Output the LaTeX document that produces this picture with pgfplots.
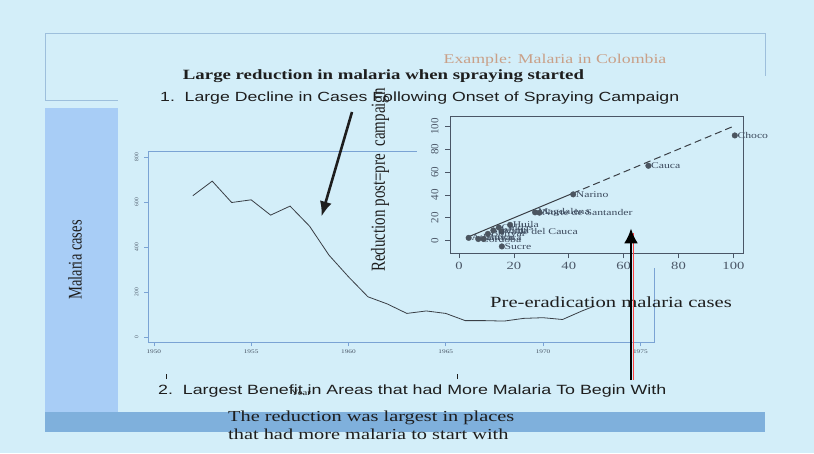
\documentclass[border=0pt]{standalone}
\usepackage{pgfplots}
\pgfplotsset{compat=1.18}
\usepackage{fontspec}
\setmainfont{Liberation Serif}
\newfontfamily\arial{Liberation Sans}
\usepackage{graphicx}
\usetikzlibrary{arrows.meta}
\definecolor{bg}{HTML}{D3EEF9}
\definecolor{framec}{HTML}{9DBFDC}
\definecolor{panel}{HTML}{A8CDF6}
\definecolor{band}{HTML}{7FB0DC}
\definecolor{exc}{HTML}{C9A088}
\definecolor{maincol}{HTML}{7AA3D4}
\definecolor{linec}{HTML}{3A3F46}
\definecolor{insetc}{HTML}{4A5666}
\definecolor{ptc}{HTML}{4B5560}
\definecolor{labc}{HTML}{3D4B5E}
\definecolor{txt}{HTML}{1E1E1E}
\newcommand{\hs}[1]{\scalebox{1.33}[1]{#1}}
\newcommand{\vs}[1]{\scalebox{1}[1.33]{#1}}
\begin{document}
\begin{tikzpicture}[x=1pt,y=1pt]
\path[use as bounding box, fill=bg] (0,0) rectangle (814,453);
% slide decorations
\draw[framec, line width=0.8pt] (45,353) -- (45,420) -- (765,420) -- (765,377);
\draw[framec, line width=0.8pt] (45,353) -- (118,353);
\fill[panel] (45,41) rectangle (118,345);
\fill[band] (45,21) rectangle (765,41);

% main chart
\begin{axis}[at={(148pt,111pt)}, anchor=south west, scale only axis,
  width=506pt, height=191pt,
  xmin=1949.7, xmax=1975.7, ymin=-22, ymax=827,
  xtick={1950,1955,...,1975}, ytick={0,200,...,800},
  axis line style={maincol, line width=0.7pt},
  tick style={maincol, line width=0.6pt},
  tick align=outside, tick pos=left, major tick length=4pt,
  xticklabel={\hs{\pgfmathprintnumber[assume math mode=true,1000 sep={}]{\tick}}},
  yticklabel={\pgfmathprintnumber[assume math mode=true,1000 sep={}]{\tick}},
  x tick label style={font=\fontsize{5.5}{6}\selectfont, text=insetc},
  y tick label style={font=\fontsize{5.5}{6}\selectfont, text=insetc, rotate=90, anchor=south},
  yticklabel shift=2pt,
  clip=false]
\addplot[color=linec, line width=0.8pt] coordinates {
(1952,628) (1953,693) (1954,598) (1955,610) (1956,542) (1957,582)
(1958,493) (1959,364) (1960,268) (1961,179) (1962,147) (1963,105)
(1964,116) (1965,105) (1966,73) (1967,73) (1968,71) (1969,83)
(1970,86) (1971,78) (1972,116) (1973,150)};
\end{axis}

% cover of inset image
\fill[bg] (417,185) rectangle (800,345);
\fill[bg] (594,142) rectangle (616,158);

% texts
\node[inner sep=0] at (555,393) {\hs{\fontsize{13.4}{16}\selectfont\color{exc}Example: Malaria in Colombia}};
\node[inner sep=0] at (383.5,377) {\hs{\fontsize{14.15}{16}\selectfont\bfseries\color{txt}Large reduction in malaria when spraying started}};
\node[inner sep=0, anchor=west] at (160,355) {\hs{\arial\fontsize{13.3}{15}\selectfont\color{txt}1.\hspace{0.55em}Large Decline in Cases Following Onset of Spraying Campaign}};
\node[inner sep=0, anchor=west] at (158,62) {\hs{\arial\fontsize{13.4}{15}\selectfont\color{txt}2.\hspace{0.55em}Largest Benefit in Areas that had More Malaria To Begin With}};
\node[inner sep=0] at (301,60) {\hs{\fontsize{8}{9}\selectfont\color{txt}Year}};
\draw[txt, line width=0.6pt] (166,74) -- (166,79);
\draw[txt, line width=0.6pt] (457,74) -- (457,79);
\node[inner sep=0, anchor=west] at (228,35) {\hs{\fontsize{15.3}{16}\selectfont\color{txt}The reduction was largest in places}};
\node[inner sep=0, anchor=west] at (228,19) {\hs{\fontsize{15.3}{16}\selectfont\color{txt}that had more malaria to start with}};
\node[inner sep=0, rotate=90] at (75,193) {\vs{\fontsize{14.5}{16}\selectfont\color{txt}Malaria cases}};
\node[inner sep=0, anchor=west] at (490,151) {\hs{\fontsize{15.5}{17}\selectfont\color{txt}Pre-eradication malaria cases}};
\node[inner sep=0, rotate=90] at (380,273) {\vs{\fontsize{15}{17}\selectfont\color{txt}Reduction post=pre\ \ campaign}};

% inset scatter
\begin{axis}[at={(450pt,199.7pt)}, anchor=south west, scale only axis,
  width=293.3pt, height=137.3pt,
  xmin=-3.3, xmax=103.6, ymin=-11, ymax=109,
  xtick={0,20,...,100}, ytick={0,20,...,100},
  axis line style={insetc, line width=0.8pt},
  tick style={insetc, line width=0.7pt},
  tick align=outside, tick pos=left, major tick length=5pt,
  xticklabel={\hs{\pgfmathprintnumber[assume math mode=true]{\tick}}},
  yticklabel={\pgfmathprintnumber[assume math mode=true]{\tick}},
  x tick label style={font=\fontsize{11}{12}\selectfont, text=insetc},
  y tick label style={font=\fontsize{11}{12}\selectfont, text=insetc, rotate=90, anchor=south},
  yticklabel shift=3pt,
  clip=false]
\addplot[color=linec, line width=1pt] coordinates {(3,3) (41.5,41.5)};
\addplot[color=linec, line width=1pt, dash pattern=on 7pt off 4pt] coordinates {(41.5,41.5) (100,100)};
\addplot[only marks, mark=*, mark size=2.8pt, color=ptc,
  point meta=explicit symbolic,
  nodes near coords={\hs{\pgfplotspointmeta}},
  nodes near coords style={anchor=west, font=\fontsize{8.8}{9}\selectfont, text=labc, inner sep=2.5pt}]
coordinates {
(100.5,92) [Choco]
(69,65.5) [Cauca]
(41.6,40.5) [Narino]
(27.7,24.8) [Magdalena]
(29.3,24.5) [Norte de Santander]
(18.6,13.8) [Huila]
(15.5,8) [Valle del Cauca]
(15.6,-5) [Sucre]
(3.5,2.5) [Atlantico]
(7,1.5) [Cordoba]
(9,1.5) [Boyaca]
(10.5,6) [Bolivar]
(12.5,9) [Tolima]
(14.5,11.5) [Caldas]
};
\end{axis}

% arrows
\draw[txt, line width=2.6pt, -{Latex[length=15pt,width=12pt]}] (352,341) -- (321.5,236.5);
\draw[red!75!white, line width=1.4pt] (633.5,73) -- (633.5,220);
\draw[black, line width=2.8pt, -{Latex[length=15pt,width=14pt]}] (631,73) -- (631,224.7);
\end{tikzpicture}
\end{document}
